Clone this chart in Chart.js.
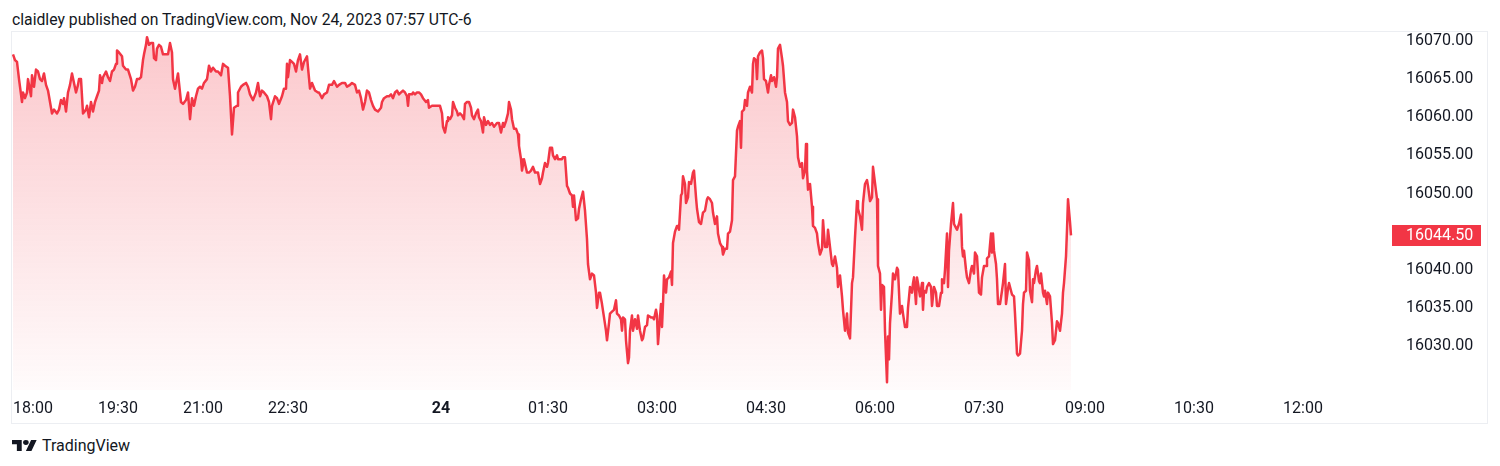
<!DOCTYPE html>
<html>
<head>
<meta charset="utf-8">
<title>NQ 1D</title>
<script src="https://cdn.jsdelivr.net/npm/chart.js@4.4.1/dist/chart.umd.min.js"></script>
<style>
  html, body { margin: 0; padding: 0; background: #fff; }
  body { width: 1500px; height: 466px; position: relative; overflow: hidden;
         font-family: Roboto, "Noto Sans", sans-serif; color: #131722; }
  #title { position: absolute; left: 12px; top: 11px; font-size: 15.75px; line-height: 18px; white-space: nowrap; }
  #frame { position: absolute; left: 11px; top: 31px; width: 1475px; height: 391px; border: 1px solid #eceef2; }
  #wrap { position: absolute; left: 12px; top: 32px; width: 1475px; height: 391px; }
  #brand { position: absolute; left: 12px; top: 436px; height: 18px; display: flex; align-items: center;
           font-size: 16px; font-weight: 400; }
  #brand svg { margin-right: 5px; }
</style>
</head>
<body>
<div id="title">claidley published on TradingView.com, Nov 24, 2023 07:57 UTC-6</div>
<div id="frame"></div>
<div id="wrap"><canvas id="chart" width="1475" height="391"></canvas></div>
<div id="brand">
  <svg width="25" height="11" viewBox="0 4 36 18" preserveAspectRatio="none"><path fill="#131722" d="M14 22H7V11H0V4h14v18zM28 22h-8l7.5-18h8L28 22z"/><circle fill="#131722" cx="20" cy="8" r="4"/></svg>
  <span>TradingView</span>
</div>
<script>
// bar number of each sampled point (from session start)
const bars = [
  1,3,5,7,10,11,13,15,16,19,
  20,22,24,26,28,30,32,34,36,38,
  40,42,45,47,49,51,52,54,56,58,
  60,62,64,66,67,69,71,74,75,77,
  79,81,83,85,87,88,90,91,94,96,
  98,100,102,104,105,107,110,111,114,116,
  119,121,123,125,127,129,131,132,134,135,
  137,139,141,142,144,145,147,149,151,154,
  156,158,160,161,163,
  166,169,171,174,176,178,180,182,184,186,
  188,190,192,195,197,199,201,204,206,209,
  211,213,216,218,220,222,225,226,229,231,
  234,236,238,241,244,246,248,250,252,255,
  257,259,260,263,265,267,270,272,274,275,
  276,278,280,282,284,286,288,290,292,295,
  296,298,300,303,306,307,310,312,315,317,
  320,322,325,327,330,333,335,338,340,343,
  345,347,
  349,351,353,355,357,359,361,363,366,369,
  370,372,375,377,379,381,383,385,387,389,
  391,393,395,396,397,400,401,403,405,407,
  409,411,414,416,417,420,423,425,428,430,
  431,433,435,436,438,440,441,443,445,446,
  448,450,452,453,455,457,459,460,462,464,
  466,467,469,471,472,474,476,478,480,482,
  485,487,489,491,492,494,496,497,499,500,
  502,504,506,507,509,510,512,
  515,517,519,521,523,526,528,530,531,533,
  535,536,538,540,541,543,545,546,548,550,
  551,553,555,556,558,560,561,562,564,566,
  567,569,571,573,575,576,578,580,582,584,
  585,587,588,590,592,594,595,597,598,600,
  602,604,605,607,609,610,611,613,614,616,
  617,618,620,621,623,625,626,628,630,631,
  633,635,636,639,641,642,644,645,646,648,
  649,650,651,652,654,655,657,659,660,661,
  663,665,666,667,669,670,671,673,674,676,
  677,679,681,682,684,685,687,689,
  691,693,695,696,698,700,701,703,705,706,
  708,710,711,713,715,716,718,720,721,723,
  725,726,728,729,730,732,733,735,736,738,
  740,741,742,744,745,746,748,750,751,752,
  754,756,757,759,760,762,764,765,766,768,
  770,771,773,775,776,778,780,781,783,785,
  786,788,790,791,793,794,795,796,798,800,
  801,803,805,806,808,810,811,813,815,816,
  818,820,821,823,825,826,828,830,831,833,
  835,836,838,840,841,843,845,846,848,850,
  851,853,855,856,858,860,861,
  865,866,868,869,870,872,873,875,876,877,
  878,880,881,883,885,886,888,890,891,893,
  895,896,898,900,901,902,904,905,906,908,
  910,911,912,914,915,917,919,920,922,924,
  925,927,929,930,932,933,935,936,937,939,
  941,942,944,945,947,949,950,951,952,954,
  955,957,959,960,962,963,965,966,967,969,
  970,972,974,975,977,979,980,981,982,984,
  985,986,988,990,991,993,994,996,997,999,
  1000,1002,1003,1005,1006,1008,1010,1011,1012,1014,
  1015,1017,1018,1020,1021,1022,1024,1025,1027,1028,
  1029,1031,1032,1033,1035,1036,1038,1040,1041,1043,
  1045,1046,1048,1050,1051,1052,1054,1055,1056,1058,
  1059
];

// close price at each of those bars
const prices = [
  16068.25,16067.5,16067.25,16065,16062,16063.25,16062.5,16063.25,16065,16062.75,
  16065.5,16064,16066.25,16066,16065,16064.75,16065.75,16064.25,16063.5,16062,
  16060.5,16061,16060.5,16061,16062.25,16061.75,16062.5,16060.75,16063.25,16064.25,
  16065.75,16064.5,16063.25,16064.25,16065,16065,16060.5,16061,16061.5,16060,
  16062,16060.75,16062,16062.75,16063.5,16065.5,16064.5,16065.25,16066,16065.25,
  16064.75,16066,16066.25,16067,16068.75,16068.5,16068,16066.75,16066.25,16066.25,
  16065,16063.5,16064,16065,16065,16065.25,16067.5,16068.25,16069.5,16070.5,
  16069.5,16069.75,16069.75,16067.75,16067.5,16069,16069.5,16069.25,16068.25,16068.25,
  16068.25,16069.75,16068.5,16065,16063.75,
  16065.75,16062,16061.75,16062.25,16063.25,16059.75,16062.5,16061.5,16062.75,16063.75,
  16064,16063.75,16064.5,16065,16066.75,16066,16066.5,16066,16066,16065.5,
  16067,16066.75,16066.5,16062.75,16057.75,16061.25,16061.5,16063.25,16064,16064.25,
  16064.5,16064,16063,16062.25,16063.25,16064.5,16062.75,16063.5,16063.25,16062.75,
  16062,16059.75,16061.5,16062.75,16062.5,16061.75,16062.75,16063.75,16063.75,16067,
  16065.25,16067.5,16067.25,16067,16066,16067.5,16068.25,16066.25,16067.25,16068,
  16066.5,16063.75,16064.5,16063.5,16063.25,16063.25,16062.5,16063,16063.25,16064.25,
  16064.25,16064.75,16064,16064.25,16064.5,16064.5,16064,16064.25,16064.5,16064.25,
  16063.25,16063.5,
  16062.5,16061,16062,16063.5,16063.25,16062.25,16061.5,16061,16060.75,16061.25,
  16062,16062.5,16062.75,16062.75,16063,16062.5,16063.25,16063.5,16063,16063.25,
  16063.5,16063.25,16062.75,16061.5,16063,16063,16063.25,16063,16063.25,16063.25,
  16063,16062.5,16062,16062.25,16061.25,16061.5,16061.5,16061.5,16061.5,16060.5,
  16058.75,16058,16059.5,16060,16059.75,16060.25,16062,16061.25,16060.75,16060.25,
  16060.5,16060.25,16059.75,16061.75,16062,16062,16061.25,16060.25,16059.75,16060.5,
  16061,16060,16059.5,16058,16060,16059,16059.5,16059,16059.25,16058.75,
  16059.25,16059.25,16058,16059.25,16058.75,16059.5,16060.5,16062,16061,16059.75,
  16058.5,16058.5,16057.75,16056.25,16054.5,16053,16054.5,
  16052.75,16052.75,16053,16053.5,16052.75,16052.75,16051.25,16052,16052.75,16054,
  16053.5,16054,16056,16056,16055,16054.5,16055,16054.5,16054.5,16054.5,
  16054.75,16054.75,16051,16050.75,16050,16049.75,16048.25,16049.75,16046.5,16046.75,
  16048,16049.25,16050.25,16047.75,16044,16040.75,16038.75,16039.5,16039.25,16037,
  16035,16037,16037,16035.5,16033.75,16032,16030.75,16033,16034.25,16034.5,
  16034.75,16036,16034.25,16034,16033.5,16032,16033.75,16033.5,16030.75,16027.75,
  16028.5,16032,16034,16032,16033.5,16032.25,16034,16032,16030.75,16031,
  16032.5,16032.75,16034,16033.75,16033.75,16033.5,16034.75,16034,16030.25,16033.75,
  16035.5,16032.5,16035.5,16039.25,16037,16038.75,16039,16039.75,16038,16043.5,
  16045,16045.75,16045.75,16045.25,16049.75,16050,16052.25,16051.25,16048.75,16049.5,
  16051.5,16051.25,16052.75,16053,16049.5,16048,16046.25,16046,
  16047.5,16047.75,16049.25,16049.5,16049.25,16048.75,16047.5,16046,16047,16044.75,
  16043.5,16043,16042,16042.75,16042.75,16044.75,16045,16046.5,16051.75,16052.25,
  16058.25,16058.75,16059.5,16056,16060.75,16061,16062.25,16061.5,16063.25,16064,
  16063.25,16067,16067.75,16067.5,16065,16068,16068.5,16068.75,16067.75,16065,
  16064.75,16063.25,16064.25,16065.5,16064.75,16065.25,16064,16065.25,16069,16069.5,
  16067.75,16066.75,16063.25,16062,16059.5,16059,16059.25,16061,16060,16057.5,
  16054.75,16053.5,16054,16052,16053,16056.5,16053,16050.5,16051.25,16048.25,
  16045.75,16045.5,16044.75,16043.5,16042,16042.75,16046.5,16043,16043,16045.25,
  16043,16040.75,16040.5,16041.75,16040.25,16037.75,16039.25,16036.5,16034.75,16032,
  16034.25,16031.75,16031,16038.25,16039,16044.25,16049,16048,16047,16045.25,
  16048.75,16051.25,16051.75,16051,16049,16049.5,16053.5,
  16049.25,16040.5,16039.5,16034.75,16038,16037.75,16032,16025.25,16031.25,16028.25,
  16033,16037,16039.5,16038.75,16040.25,16040,16034.25,16035.25,16034.25,16032.5,
  16032.5,16035,16037.75,16037,16038.25,16039,16035.5,16039,16038.25,16036.5,
  16038.25,16034.75,16037.25,16037,16037.75,16038.25,16037.75,16035.25,16037.75,16037,
  16035.25,16035.25,16037,16038.75,16038.25,16040,16044.75,16037.75,16042.5,16046,
  16048.75,16046,16045.5,16045.25,16046,16047.25,16043,16041.75,16042.5,16040,
  16039,16038.25,16040,16040.5,16039.5,16042.25,16041.75,16039.5,16037,16036.75,
  16039,16040.5,16040.5,16041.5,16041.75,16044.75,16042.25,16044.75,16042.5,16040.75,
  16038.75,16035.5,16035.5,16037.25,16038.25,16040.75,16035.5,16037.5,16038.25,16037.25,
  16036.75,16036.5,16034.25,16029,16028.75,16029,16032,16035.5,16037,16037.25,
  16042.25,16041.25,16037.25,16035.75,16038.75,16038.25,16040,16040.5,16038.5,16038.25,
  16039.5,16037,16036.5,16037.25,16035.5,16037,16036.5,16033,16030.25,16030.75,
  16033.25,16033,16032,16034.25,16037,16038.25,16041.75,16045.25,16049.25,16046.25,
  16044.5
];

// time axis labels and the bar they sit on
const tickLabels = ['18:00', '19:30', '21:00', '22:30', '24', '01:30', '03:00', '04:30', '06:00', '07:30', '09:00', '10:30', '12:00'];
const tickBars = [21, 106, 191, 276, 429, 536, 645, 754, 863, 972, 1073, 1182, 1291];

// price axis labels (16045 is covered by the last price badge)
const priceTicks = [16030, 16035, 16040, 16050, 16055, 16060, 16065, 16070];

const lastPrice = prices[prices.length - 1];
const red = '#f23645';
const textColor = '#131722';

// red badge with the last price on the price scale
const lastPriceBadge = {
    id: 'lastPriceBadge',
    afterDraw(chart) {
        const y = chart.scales.y;
        const py = Math.round(y.getPixelForValue(lastPrice));
        const c = chart.ctx;
        c.save();
        c.fillStyle = red;
        c.fillRect(y.left + 2, py - 10, 89, 21);
        c.fillStyle = '#fff';
        c.font = '16px Roboto';
        c.textBaseline = 'middle';
        c.fillText(lastPrice.toFixed(2), y.left + 16, py + 0.5);
        c.restore();
    }
};

new Chart(document.getElementById('chart').getContext('2d'), {
    type: 'line',
    data: {
        datasets: [{
            data: bars.map((b, i) => ({ x: b, y: prices[i] })),
            borderColor: red,
            borderWidth: 2.5,
            pointRadius: 0,
            tension: 0,
            borderJoinStyle: 'round',
            fill: 'start',
            backgroundColor: function(context) {
                const area = context.chart.chartArea;
                if (!area) return 'rgba(242,54,69,0.15)';
                const g = context.chart.ctx.createLinearGradient(0, area.top, 0, area.bottom);
                g.addColorStop(0, 'rgba(242,54,69,0.28)');
                g.addColorStop(1, 'rgba(242,54,69,0.02)');
                return g;
            }
        }]
    },
    options: {
        responsive: false,
        animation: false,
        devicePixelRatio: 1,
        layout: { padding: 0 },
        plugins: {
            legend: { display: false },
            tooltip: { enabled: false }
        },
        scales: {
            x: {
                type: 'linear',
                min: 0,
                max: 1378,
                grid: { display: false, drawTicks: false },
                border: { display: false },
                afterBuildTicks: s => { s.ticks = tickBars.map(v => ({ value: v })); },
                afterFit: s => { s.height = 33; s.paddingLeft = 0; s.paddingRight = 0; },
                ticks: {
                    autoSkip: false,
                    maxRotation: 0,
                    padding: 9,
                    color: textColor,
                    font: c => ({ family: 'Roboto', size: 16, weight: c.tick && c.tick.label === '24' ? 'bold' : 'normal' }),
                    callback: (v, i) => tickLabels[i]
                }
            },
            y: {
                position: 'right',
                min: 16024.23,
                max: 16071.18,
                grid: { display: false, drawTicks: false },
                border: { display: false },
                afterBuildTicks: s => { s.ticks = priceTicks.map(v => ({ value: v })); },
                afterFit: s => { s.width = 97; s.paddingTop = 0; s.paddingBottom = 0; },
                ticks: {
                    padding: 16,
                    color: textColor,
                    font: { family: 'Roboto', size: 16 },
                    callback: v => v.toFixed(2)
                }
            }
        }
    },
    plugins: [lastPriceBadge]
});
</script>
</body>
</html>
